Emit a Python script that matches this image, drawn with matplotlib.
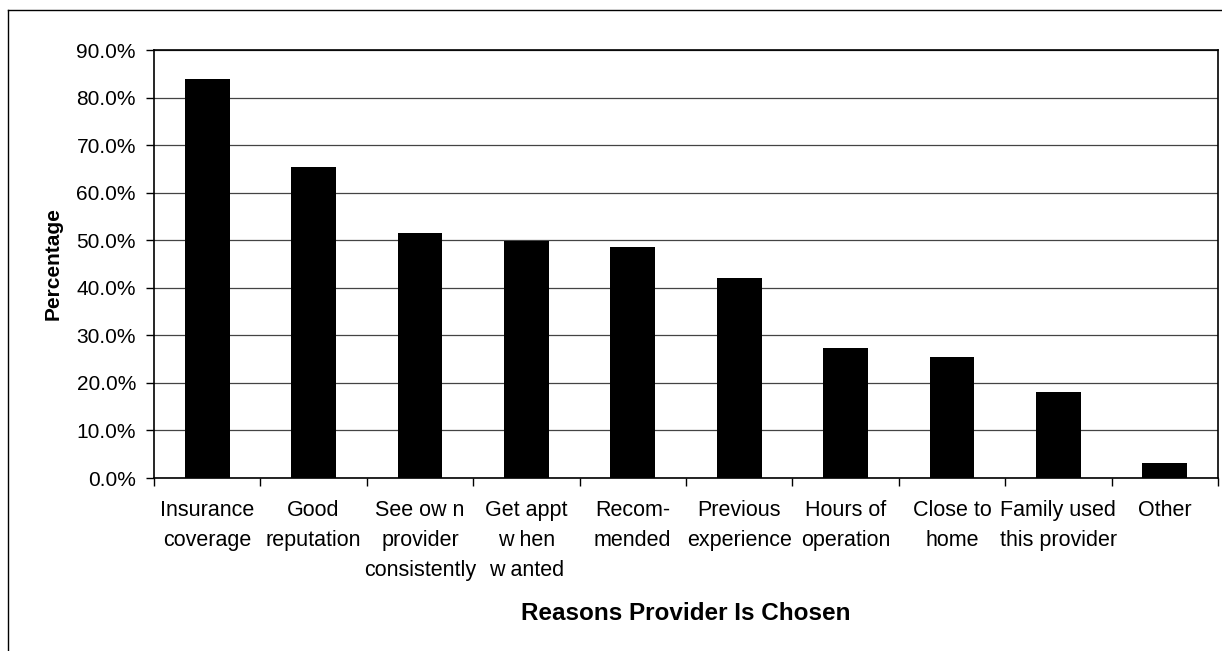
import numpy as np
import matplotlib.pyplot as plt
from matplotlib.lines import Line2D

plt.rcParams['font.family'] = ['Liberation Sans', 'DejaVu Sans']

reasons = ['Insurance\ncoverage', 'Good\nreputation', 'See ow n\nprovider\nconsistently',
           'Get appt\nw hen\nw anted', 'Recom-\nmended', 'Previous\nexperience',
           'Hours of\noperation', 'Close to\nhome', 'Family used\nthis provider', 'Other']
percent = [84.0, 65.5, 51.5, 49.8, 48.5, 42.0, 27.3, 25.4, 18.0, 3.1]
yticks = [0, 10, 20, 30, 40, 50, 60, 70, 80, 90]

W, H = 1222, 651
fig = plt.figure(figsize=(W / 100, H / 100), dpi=100)
ax = fig.add_axes([154 / W, 1 - 478 / H, (1218 - 154) / W, (478 - 50) / H])

x = np.arange(len(reasons))
ax.bar(x, percent, width=0.42, color='black', zorder=3)

ax.set_xlim(-0.5, len(reasons) - 0.5)
ax.set_ylim(0, 90)
ax.set_yticks(yticks)
ax.set_yticklabels([f'{v:.1f}%' for v in yticks], fontsize=15)
ax.yaxis.grid(True, color='#444444', linewidth=0.9, zorder=0)

# category labels sit between boundary ticks
ax.set_xticks(x)
ax.set_xticklabels(reasons, fontsize=15.5, linespacing=1.56)
ax.tick_params(axis='x', length=0, pad=16)
ax.set_xticks(np.arange(len(reasons) + 1) - 0.5, minor=True)
ax.tick_params(axis='x', which='minor', length=6, width=1, direction='out')
ax.tick_params(axis='y', length=6, width=1, direction='out', pad=7)

for s in ax.spines.values():
    s.set_linewidth(1.2)
    s.set_color('black')

ax.set_ylabel('Percentage', fontsize=15, fontweight='bold', labelpad=10)
ax.set_xlabel('Reasons Provider Is Chosen', fontsize=17.5, fontweight='bold', labelpad=15)

# outer chart frame
fig.add_artist(Line2D([8 / W, 8 / W], [0, 1 - 10 / H], color='black', linewidth=1, transform=fig.transFigure))
fig.add_artist(Line2D([8 / W, 1], [1 - 10 / H, 1 - 10 / H], color='black', linewidth=1, transform=fig.transFigure))

fig.savefig('out.png', dpi=100, facecolor='white')
